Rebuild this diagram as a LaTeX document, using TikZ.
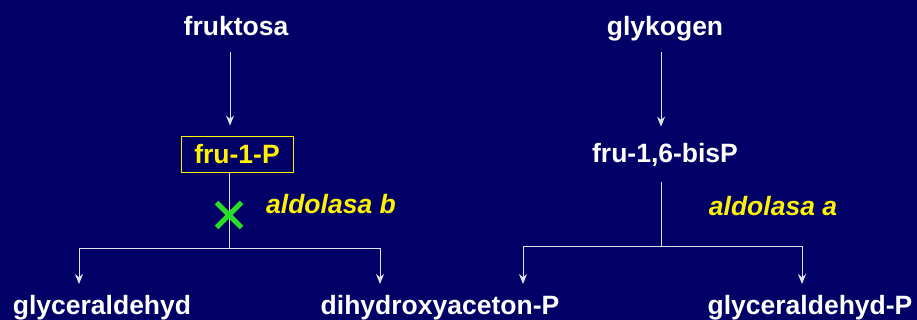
\documentclass[tikz,border=0pt]{standalone}
\usepackage{fontspec}
\setmainfont{Liberation Sans}
\usetikzlibrary{arrows.meta,shapes.misc}
\definecolor{slidebg}{RGB}{0,0,102}
\definecolor{pathline}{RGB}{225,225,235}
\definecolor{blockgreen}{RGB}{40,220,40}
\tikzset{
	lbl/.style={text=white, font=\fontsize{26.5}{30}\selectfont\bfseries, inner sep=0pt},
	enzyme/.style={text=yellow, font=\fontsize{26.5}{30}\selectfont\bfseries\itshape, inner sep=0pt, anchor=base},
	line/.style={draw=pathline, line width=1pt},
	arr/.style={line, -{Stealth[length=10pt,width=8pt]}}
}
\begin{document}
\begin{tikzpicture}[x=1pt, y=-1pt]
			%%%%% START %%%%%
			
			\fill[slidebg] (0,0) rectangle (917,320);
			\useasboundingbox (0,0) rectangle (917,320);
			
			% left: fruktosa
			\node[lbl, anchor=base] (fruk) at (236,36) {fruktosa};
			\node[lbl, text=yellow, draw=yellow, line width=0.8pt, minimum width=112pt, minimum height=36pt] (fru1p) at (237,154) {fru-1-P};
			\node[enzyme] (aldb) at (331,214) {aldolasa b};
			\node[lbl, anchor=base] (glyc) at (102,314) {glyceraldehyd};
			\node[lbl, anchor=base] (dhap) at (440,314) {dihydroxyaceton-P};
			
			% right: glykogen
			\node[lbl, anchor=base] (glyk) at (665,36) {glykogen};
			\node[lbl, anchor=base] (fru16bp) at (665,163) {fru-1,6-bisP};
			\node[enzyme] (alda) at (773,216) {aldolasa a};
			\node[lbl, anchor=base] (glycp) at (810,314) {glyceraldehyd-P};
			
			\coordinate (splitb) at (229,248);
			\coordinate (tipglyc) at (79,284);
			\coordinate (tipdhap) at (380,284);
			\coordinate (splita) at (661,246);
			\coordinate (tipdhapr) at (523,284);
			\coordinate (tipglycp) at (802,284);
			
			\draw[arr, shorten >=10pt] ([xshift=-6pt, yshift=-16pt]fruk.south) -- ([xshift=-7pt]fru1p.north);
			\draw[line] (fru1p.south -| splitb) -- (splitb);
			\draw[arr] (splitb) -| (tipglyc);
			\draw[arr] (splitb) -| (tipdhap);
			
			\draw[arr, shorten >=10pt] ([xshift=-4pt, yshift=-10pt]glyk.south) -- ([xshift=-4pt, yshift=7pt]fru16bp.north);
			\draw[line] ([yshift=-15pt]fru16bp.south -| splita) -- (splita);
			\draw[arr] (splita) -| (tipdhapr);
			\draw[arr] (splita) -| (tipglycp);
			
			% blocked step
			\node[cross out, draw=blockgreen, line width=5pt, minimum size=20pt, inner sep=0pt] (block) at (229,215) {};
			
			%%%%% END %%%%%
\end{tikzpicture}
\end{document}
